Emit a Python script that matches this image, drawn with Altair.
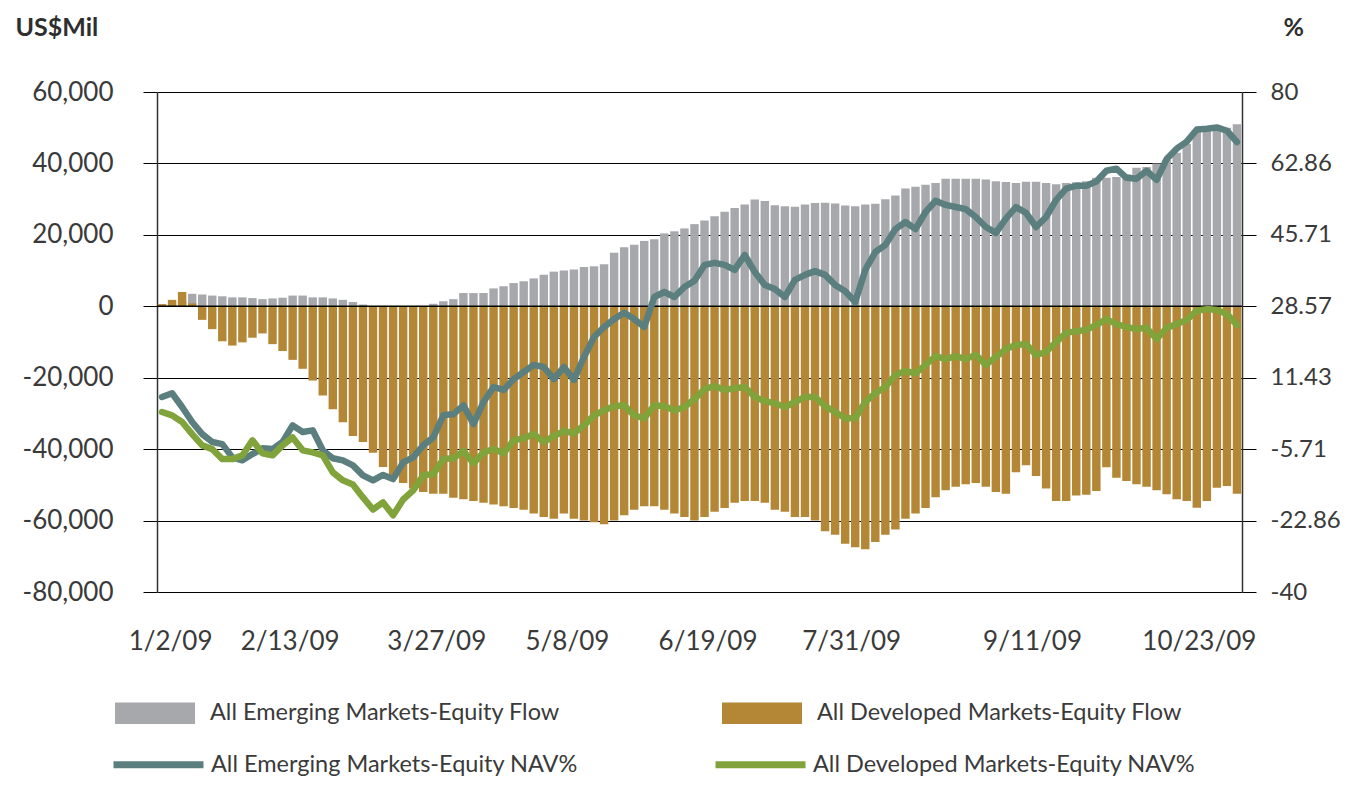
import altair as alt
import pandas as pd

# ---------------- data ----------------
tick_labels = ["1/2/09", "2/13/09", "3/27/09", "5/8/09", "6/19/09", "7/31/09", "9/11/09", "10/23/09"]
tick_index = [1.3, 13.2, 27.8, 40.8, 54.8, 69.1, 87.1, 103.7]

left_ticks = [-80000, -60000, -40000, -20000, 0, 20000, 40000, 60000]
right_ticks = [-40, -22.86, -5.71, 11.43, 28.57, 45.71, 62.86, 80]

em_flow = [500, 800, 1500, 3500, 3300, 3000, 2800, 2500, 2500, 2300,
           2000, 2200, 2400, 3000, 3000, 2500, 2500, 2200, 1800, 1200,
           500, 0, 0, 0, 0, 0, 0, 700, 1400, 2000,
           3700, 3700, 3700, 5000, 5600, 6500, 7000, 7800, 8800, 9700,
           10000, 10300, 11000, 11200, 11800, 15000, 16500, 17200, 18300, 18800,
           20400, 21000, 21800, 23000, 24000, 25200, 26500, 27500, 28500, 29900,
           29500, 28300, 28000, 27900, 28500, 28900, 29000, 28800, 28200, 28000,
           28500, 28700, 30000, 31000, 33000, 33500, 34000, 34500, 35700, 35700,
           35700, 35700, 35500, 35000, 34800, 34500, 34900, 34900, 34500, 34200,
           34500, 34700, 35000, 36000, 36000, 36200, 37000, 38800, 39000, 40000,
           41000, 43000, 45500, 49000, 49200, 49500, 50000, 51000]

dm_flow = [600, 1800, 4000, 800, -3800, -6400, -9800, -11000, -10100, -8800,
           -7600, -10600, -12500, -15000, -17500, -20800, -25000, -28800, -32500, -36300,
           -38000, -41000, -45000, -48000, -49500, -51000, -52000, -52500, -52500, -53600,
           -54000, -54500, -55000, -55500, -56000, -56500, -57000, -58000, -59000, -59500,
           -58000, -59500, -60000, -60500, -61000, -60000, -58500, -57000, -56000, -56000,
           -57000, -58000, -59000, -60000, -59000, -57500, -56500, -55000, -54500, -54500,
           -55000, -57000, -57500, -59000, -59000, -60000, -63000, -64000, -66500, -67500,
           -68000, -66000, -64000, -62500, -59500, -58000, -56500, -53500, -51500, -50500,
           -49800, -49500, -50500, -52000, -52500, -46500, -44500, -47500, -51000, -54500,
           -54500, -53000, -52800, -51700, -45100, -48000, -48900, -49800, -50500, -51500,
           -52600, -54000, -54500, -56400, -54500, -50800, -50300, -52500]

em_nav = [6.8, 7.7, 4.4, 0.8, -2.1, -4.0, -4.5, -7.7, -8.4, -6.9,
          -5.5, -5.7, -4.0, 0.0, -1.6, -1.2, -6.0, -7.9, -8.4, -9.6,
          -12.0, -13.2, -11.9, -12.9, -8.9, -7.7, -4.8, -2.9, 2.4, 2.7,
          4.8, 0.3, 5.6, 9.2, 8.5, 11.1, 12.8, 14.5, 14.0, 11.1,
          14.0, 10.9, 16.4, 21.2, 23.6, 25.5, 27.0, 25.5, 23.6, 30.8,
          32.0, 30.8, 33.2, 34.7, 38.5, 39.0, 38.5, 37.3, 40.9, 36.8,
          33.7, 32.7, 30.8, 34.9, 36.1, 37.0, 36.1, 33.7, 32.2, 29.6,
          37.3, 41.6, 43.3, 47.1, 48.8, 47.1, 51.2, 53.9, 52.9, 52.4,
          51.9, 50.0, 47.6, 46.2, 49.6, 52.4, 51.0, 47.6, 50.0, 54.1,
          56.8, 57.5, 57.5, 58.5, 61.1, 61.6, 59.4, 59.2, 61.1, 58.9,
          63.9, 66.4, 68.1, 71.0, 71.2, 71.5, 70.7, 68.0]

dm_nav = [3.2, 2.4, 0.8, -2.1, -4.8, -5.7, -8.1, -8.1, -7.2, -3.6,
          -6.7, -7.2, -4.8, -2.9, -6.0, -6.5, -7.2, -11.3, -13.2, -14.2,
          -17.3, -20.2, -18.5, -21.6, -17.8, -15.6, -12.0, -11.7, -8.1, -7.9,
          -6.2, -9.1, -6.5, -5.7, -6.7, -3.6, -3.1, -2.1, -4.0, -2.6,
          -1.4, -1.9, 0.0, 2.4, 3.6, 4.6, 4.8, 2.4, 1.7, 4.8,
          4.6, 3.6, 4.4, 6.3, 8.7, 9.4, 8.5, 8.9, 9.2, 6.8,
          5.8, 5.3, 4.4, 5.6, 6.8, 6.8, 4.6, 3.2, 1.7, 1.7,
          5.6, 7.7, 9.2, 12.1, 13.0, 12.5, 14.5, 16.6, 15.9, 16.6,
          15.9, 16.9, 14.5, 16.4, 18.3, 19.3, 19.5, 16.9, 17.6, 20.0,
          22.2, 22.6, 22.9, 24.1, 25.5, 24.3, 23.6, 23.1, 23.4, 20.7,
          23.4, 24.3, 25.3, 27.5, 27.9, 27.7, 26.7, 24.1]

EM_FLOW = "All Emerging Markets-Equity Flow"
DM_FLOW = "All Developed Markets-Equity Flow"
EM_NAV = "All Emerging Markets-Equity NAV%"
DM_NAV = "All Developed Markets-Equity NAV%"

GRAY, GOLD, TEAL, GREEN = "#a7a8ac", "#b38735", "#5b7f7e", "#80a43b"
FONT = "Lato"
TXT = "#3a3a3a"

n = len(em_flow)
idx = list(range(n))
bars = pd.DataFrame({"i": idx * 2, "series": [EM_FLOW] * n + [DM_FLOW] * n,
                     "value": em_flow + dm_flow})
lines = pd.DataFrame({"i": idx * 2, "series": [EM_NAV] * n + [DM_NAV] * n,
                      "value": em_nav + dm_nav})
zero = pd.DataFrame({"zero": [0]})

xscale = alt.Scale(domain=[0, n], nice=False, zero=False)
x_label_expr = ("[" + ",".join("'" + s + "'" for s in tick_labels) + "][indexof(["
                + ",".join(str(v) for v in tick_index) + "], datum.value)]")


def x_axis():
    return alt.Axis(values=tick_index, labelExpr=x_label_expr, domain=False, ticks=False,
                    grid=False, labelPadding=36, labelFont=FONT, labelFontSize=26,
                    labelColor=TXT, title=None, labelFlush=False, labelOverlap=False,
                    labelBound=False)


left_axis = alt.Axis(values=left_ticks,
                     labelExpr="datum.value < 0 ? '-' + format(-datum.value, ',') : format(datum.value, ',')",
                     grid=True, gridColor="#000000", gridWidth=1,
                     domainColor="#333333", domainWidth=1.5,
                     tickColor="#000000", tickSize=14, tickWidth=1,
                     labelFont=FONT, labelFontSize=26, labelColor=TXT, labelPadding=30,
                     title="US$Mil", titleAngle=0, titleX=-142, titleY=-57,
                     titleAlign="left", titleBaseline="alphabetic",
                     titleFont=FONT, titleFontSize=25, titleFontWeight="bold", titleColor="#2e2e2e")

right_axis = alt.Axis(orient="right", values=right_ticks,
                      labelExpr="datum.value < 0 ? '-' + format(-datum.value, '.2~f') : format(datum.value, '.2~f')",
                      grid=False, domainColor="#333333", domainWidth=1.5,
                      tickColor="#000000", tickSize=14, tickWidth=1,
                      labelFont=FONT, labelFontSize=24, labelColor=TXT, labelPadding=14,
                      title="%", titleAngle=0, titleX=41, titleY=-57,
                      titleAlign="left", titleBaseline="alphabetic",
                      titleFont=FONT, titleFontSize=25, titleFontWeight="bold", titleColor="#2e2e2e")

bar_legend = alt.Legend(orient="none", legendX=-42, legendY=581, direction="horizontal",
                        title=None, symbolType="M-1,-0.27H1V0.27H-1Z", symbolSize=6400,
                        symbolStrokeWidth=0, symbolOpacity=1, labelLimit=600,
                        labelFont=FONT, labelFontSize=23.5, labelColor=TXT, labelOffset=15,
                        columnPadding=162, padding=0)

line_legend = alt.Legend(orient="none", legendX=-47, legendY=624, direction="horizontal",
                         title=None, symbolType="stroke", symbolSize=8100,
                         symbolStrokeWidth=7, symbolOpacity=1, labelLimit=600,
                         labelFont=FONT, labelFontSize=23.5, labelColor=TXT, labelOffset=4,
                         columnPadding=123, padding=0)

yleft = alt.Scale(domain=[-80000, 60000], nice=False, zero=False, padding=0)
yright = alt.Scale(domain=[-40, 80], nice=False, zero=False, padding=0)

bar_layer = alt.Chart(bars).transform_calculate(
    x0="datum.i + 0.08", x1="datum.i + 0.92", base="0"
).mark_bar(opacity=1).encode(
    x=alt.X("x0:Q", scale=xscale, axis=x_axis()),
    x2="x1:Q",
    y=alt.Y("value:Q", stack=None, scale=yleft, axis=left_axis),
    y2="base:Q",
    fill=alt.Fill("series:N", sort=None,
                  scale=alt.Scale(domain=[EM_FLOW, DM_FLOW], range=[GRAY, GOLD]),
                  legend=bar_legend),
)

zero_rule = alt.Chart(zero).mark_rule(color="#000000", strokeWidth=1.5).encode(
    y=alt.Y("zero:Q", scale=yleft)
)

line_layer = alt.Chart(lines).transform_calculate(
    xm="datum.i + 0.5"
).mark_line(strokeWidth=6.5, strokeJoin="round", strokeCap="round").encode(
    x=alt.X("xm:Q", scale=xscale, axis=x_axis()),
    y=alt.Y("value:Q", scale=yright, axis=right_axis),
    stroke=alt.Stroke("series:N", sort=None,
                      scale=alt.Scale(domain=[EM_NAV, DM_NAV], range=[TEAL, GREEN]),
                      legend=line_legend),
)

chart = alt.layer(alt.layer(bar_layer, zero_rule), line_layer).resolve_scale(
    y="independent", fill="independent", stroke="independent"
).properties(
    width=1085, height=500,
    autosize=alt.AutoSizeParams(type="none"),
    padding={"left": 149, "top": 84, "right": 98, "bottom": 184},
    background="white",
).configure_view(stroke=None)

chart.save("out.html", embed_options={"renderer": "svg", "actions": False})
